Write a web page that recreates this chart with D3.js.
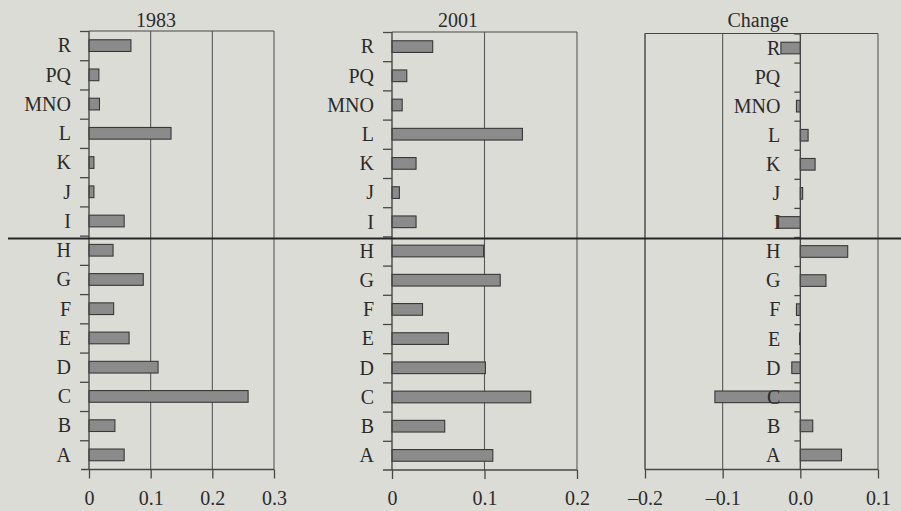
<!DOCTYPE html>
<html>
<head>
<meta charset="utf-8">
<script src="https://cdn.jsdelivr.net/npm/d3@7"></script>
<style>
  html, body { margin: 0; padding: 0; background: #dcdcd7; }
  svg { display: block; }
  text { font-family: "Liberation Serif", "Times New Roman", serif; fill: #2b2b2b; }
</style>
</head>
<body>
<svg id="chart" width="901" height="511"></svg>
<script>
// ---- data ----
const categories = ["R", "PQ", "MNO", "L", "K", "J", "I", "H", "G", "F", "E", "D", "C", "B", "A"];
const values1983 = [0.068, 0.016, 0.017, 0.133, 0.008, 0.008, 0.057, 0.039, 0.088, 0.040, 0.065, 0.112, 0.258, 0.042, 0.057];
const values2001 = [0.044, 0.016, 0.011, 0.141, 0.026, 0.008, 0.026, 0.099, 0.117, 0.033, 0.061, 0.101, 0.150, 0.057, 0.109];
const valuesChange = [-0.025, 0.0, -0.005, 0.010, 0.019, 0.003, -0.028, 0.061, 0.033, -0.005, -0.001, -0.011, -0.110, 0.016, 0.053];
const titles = ["1983", "2001", "Change"];
const ticks1983 = [0, 0.1, 0.2, 0.3];
const ticks2001 = [0, 0.1, 0.2];
const ticksChange = [-0.2, -0.1, 0.0, 0.1];
const tickLabels1983 = ["0", "0.1", "0.2", "0.3"];
const tickLabels2001 = ["0", "0.1", "0.2"];
const tickLabelsChange = ["\u20130.2", "\u20130.1", "0.0", "0.1"];

// ---- layout ----
const panels = [
  { title: titles[0], values: values1983, ticks: ticks1983, labels: tickLabels1983,
    domain: [0, 0.3], x0: 89, x1: 274, top: 31, bottom: 469.5, titleX: 156, extendLeft: 8, labelGap: 18 },
  { title: titles[1], values: values2001, ticks: ticks2001, labels: tickLabels2001,
    domain: [0, 0.2], x0: 392, x1: 577, top: 32, bottom: 470, titleX: 458, extendLeft: 9, labelGap: 18 },
  { title: titles[2], values: valuesChange, ticks: ticksChange, labels: tickLabelsChange,
    domain: [-0.2, 0.1], x0: 645, x1: 878, top: 33.5, bottom: 469.5, titleX: 758, extendLeft: 0, labelGap: 20 }
];

const svg = d3.select("#chart");
const lineColor = "#474747";

panels.forEach(p => {
  const g = svg.append("g");
  const x = d3.scaleLinear().domain(p.domain).range([p.x0, p.x1]);
  const y = d3.scaleBand().domain(categories).range([p.top, p.bottom])
    .paddingInner(0.6).paddingOuter(0.3);
  const yb = d3.scaleLinear().domain([0, categories.length]).range([p.top, p.bottom]);
  const zx = x(0);

  // frame: top line, gridlines, right border
  g.append("line").attr("x1", p.x0).attr("x2", p.x1).attr("y1", p.top).attr("y2", p.top)
    .attr("stroke", lineColor).attr("stroke-width", 1.2);
  p.ticks.forEach(t => {
    if (t === 0) return;
    g.append("line").attr("x1", x(t)).attr("x2", x(t)).attr("y1", p.top).attr("y2", p.bottom)
      .attr("stroke", "#585858").attr("stroke-width", 1.1);
  });
  if (p.domain[0] < 0) {
    g.append("line").attr("x1", x(p.domain[0])).attr("x2", x(p.domain[0])).attr("y1", p.top).attr("y2", p.bottom)
      .attr("stroke", "#585858").attr("stroke-width", 1.1);
  }

  // bars
  g.selectAll("rect.bar").data(categories).join("rect")
    .attr("class", "bar")
    .attr("x", (c, i) => Math.min(x(0), x(p.values[i])))
    .attr("width", (c, i) => Math.abs(x(p.values[i]) - x(0)))
    .attr("y", c => y(c))
    .attr("height", y.bandwidth())
    .attr("fill", "#8b8b8b")
    .attr("stroke", "#383838")
    .attr("stroke-width", 1.1);

  // x axis
  const xAxis = d3.axisBottom(x).tickValues(p.ticks)
    .tickFormat((d, i) => p.labels[i]).tickSize(9).tickSizeOuter(0).tickPadding(12);
  const xa = g.append("g").attr("transform", `translate(0,${p.bottom})`).call(xAxis);
  xa.select(".domain").remove();
  xa.selectAll(".tick line").attr("stroke", lineColor).attr("stroke-width", 1.3);
  xa.selectAll(".tick text").attr("font-size", 20).attr("font-family", "Liberation Serif, serif")
    .attr("fill", "#2b2b2b");
  g.append("line").attr("x1", p.x0 - p.extendLeft).attr("x2", p.x1)
    .attr("y1", p.bottom).attr("y2", p.bottom).attr("stroke", lineColor).attr("stroke-width", 1.4);

  // y axis: boundary ticks
  const yAxis = d3.axisLeft(yb).tickValues(d3.range(0, categories.length))
    .tickFormat("").tickSize(p.domain[0] < 0 ? 6 : 9).tickSizeOuter(0);
  const ya = g.append("g").attr("transform", `translate(${zx},0)`).call(yAxis);
  ya.select(".domain").remove();
  ya.selectAll(".tick line").attr("stroke", lineColor).attr("stroke-width", 1.3);
  g.append("line").attr("x1", zx).attr("x2", zx).attr("y1", p.top).attr("y2", p.bottom)
    .attr("stroke", lineColor).attr("stroke-width", 1.4);

  // category labels
  g.selectAll("text.cat").data(categories).join("text")
    .attr("class", "cat")
    .attr("x", zx - p.labelGap)
    .attr("y", c => y(c) + y.bandwidth() / 2)
    .attr("dy", "0.34em")
    .attr("text-anchor", "end")
    .attr("font-size", 20)
    .text(c => c);

  // title
  g.append("text").attr("x", p.titleX).attr("y", 27).attr("text-anchor", "middle")
    .attr("font-size", 20).text(p.title);
});

// separator line across the whole figure (between I and H)
svg.append("line").attr("x1", 8).attr("x2", 901).attr("y1", 238.5).attr("y2", 238.5)
  .attr("stroke", "#262626").attr("stroke-width", 2);
</script>
</body>
</html>
